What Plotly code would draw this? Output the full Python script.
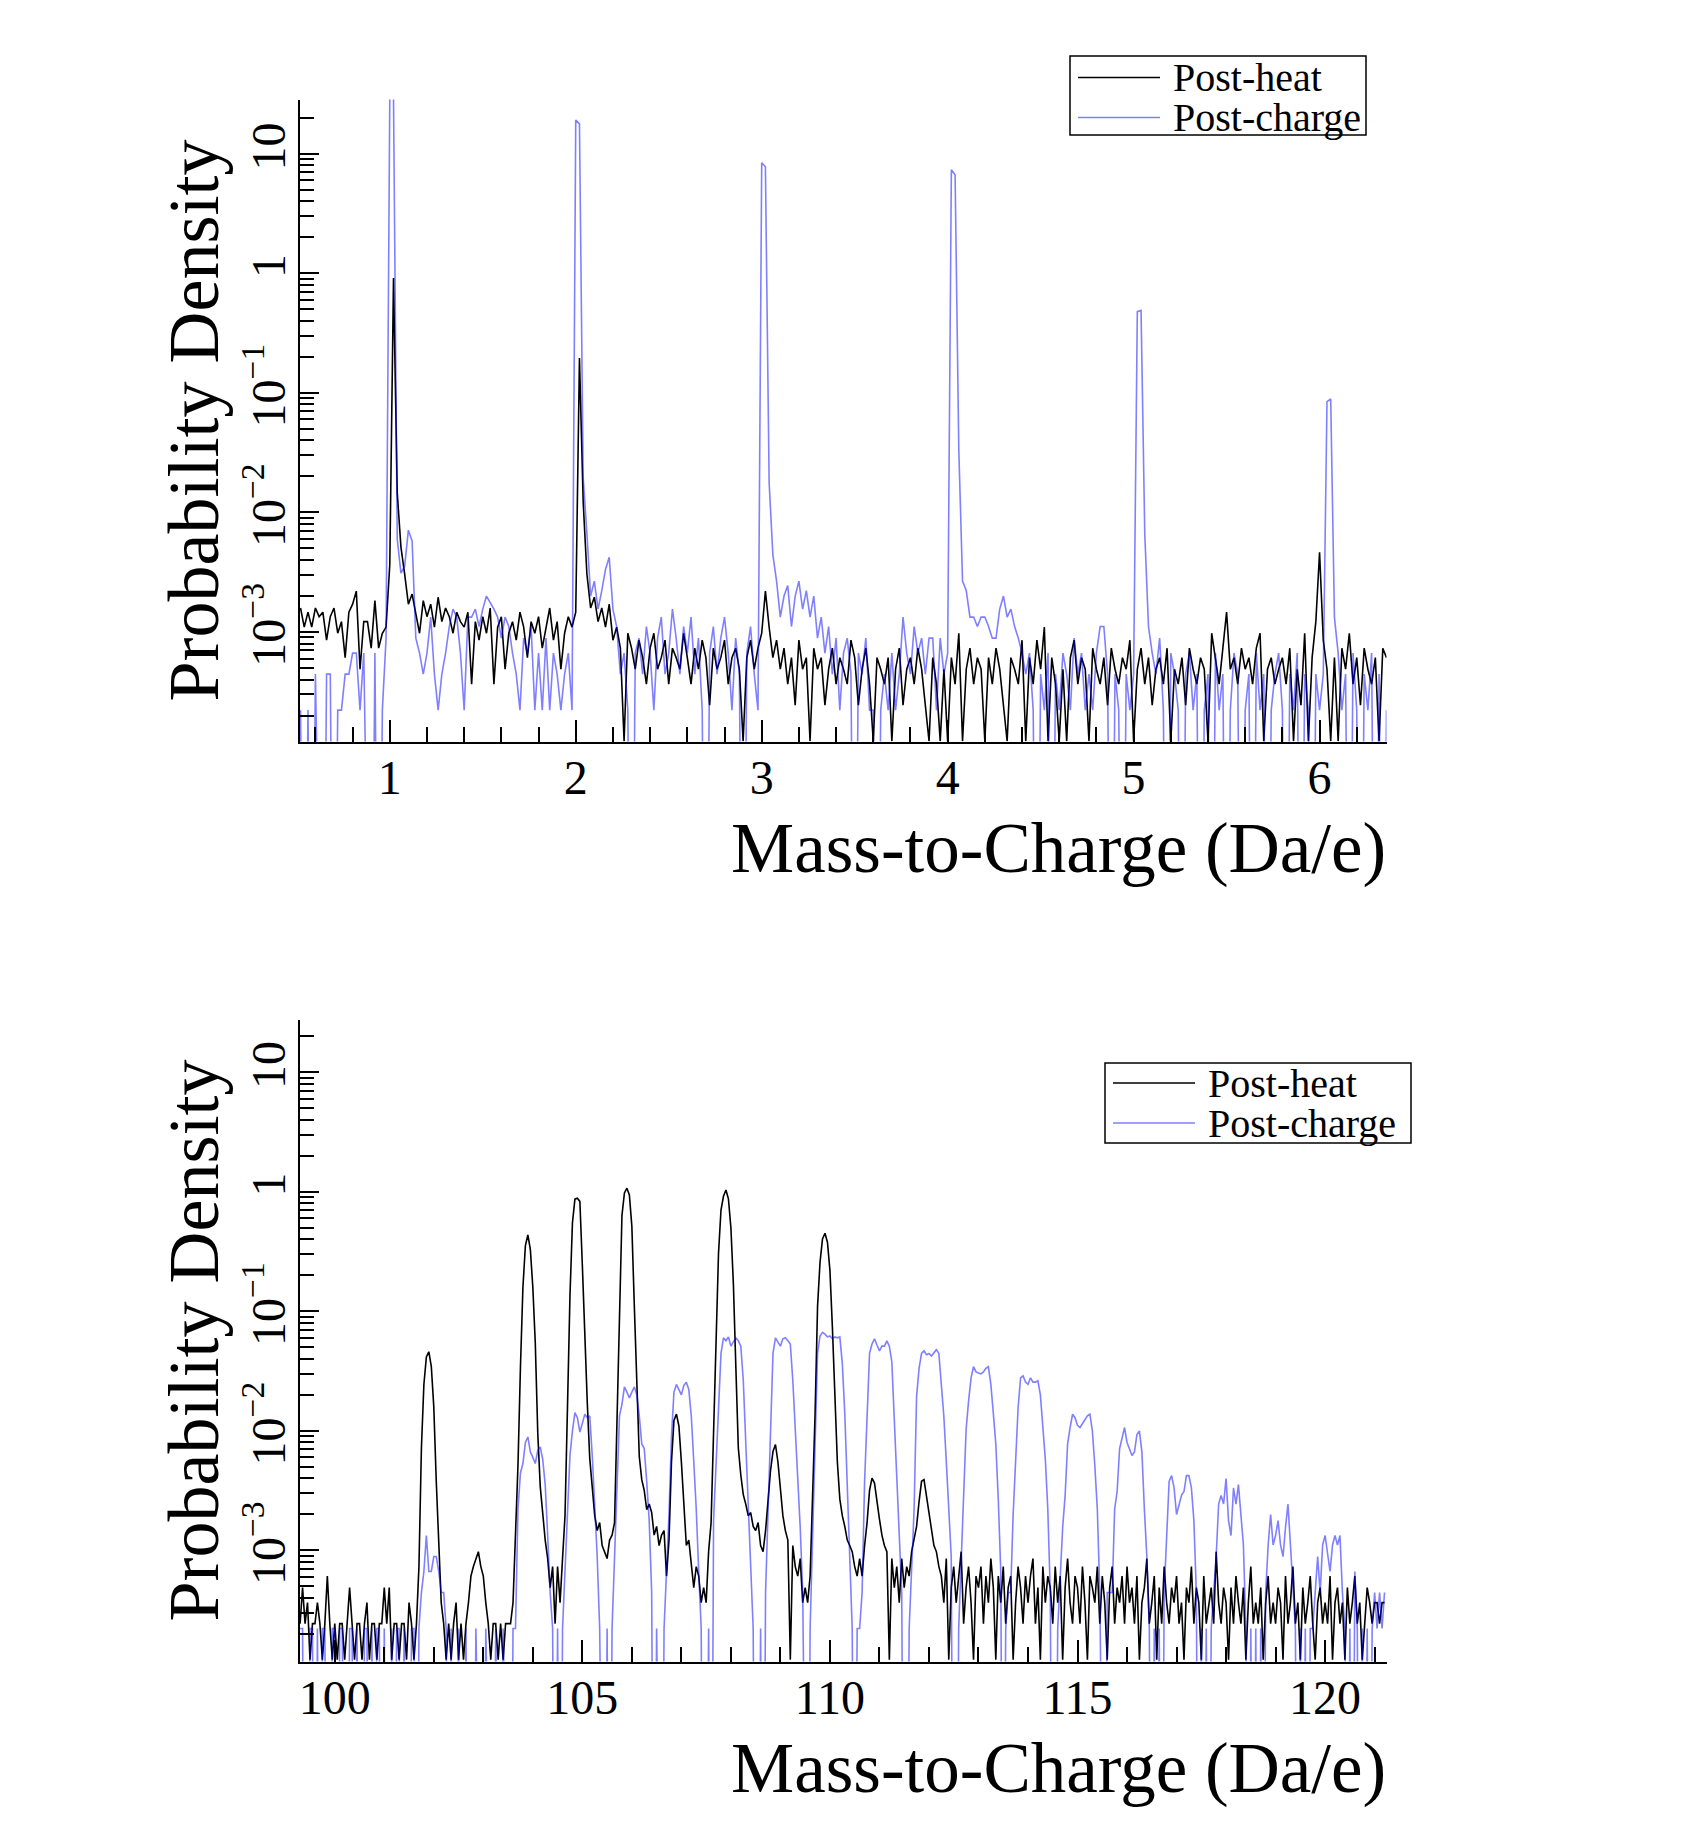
import numpy as np
import plotly.graph_objects as go

W, H = 1687, 1828

# ---------------------------------------------------------------- data
# histogram bin centres (Da/e): start and width of the bins used
top_bin_start, top_bin_width = 0.52, 0.02
bottom_bin_start, bottom_bin_width = 99.30, 0.05

# probability density carried by one count in one bin
heat_unit = 1.22e-4      # Post-heat
charge_unit = 2.22e-4    # Post-charge

series_names = ["Post-heat", "Post-charge"]

# counts per bin, 0.52 ... 6.36 Da/e
top_heat_counts = [
    13, 9, 12, 9, 13, 11, 12, 7, 11, 13, 8, 10, 5, 12, 14, 18, 4, 10, 10, 6, 15, 6, 8, 9,
    30, 7460, 120, 42, 25, 14, 17, 12, 8, 15,
    11, 14, 9, 16, 10, 13, 11, 8, 12, 10,
    9, 12, 3, 10, 7, 11, 8, 13, 3, 9,
    11, 4, 8, 10, 7, 12, 9, 5, 10, 8,
    11, 6, 9, 13, 7, 10, 4, 8, 11, 9,
    12, 1600, 100, 25, 13, 16, 10, 13, 9, 14,
    7, 9, 6, 1, 8, 6, 4, 7, 5, 3,
    6, 8, 4, 5, 7, 3, 6, 5, 4, 8,
    5, 3, 6, 4, 7, 5, 2, 6, 4, 5,
    7, 3, 5, 6, 4, 1, 5, 7, 4, 6,
    8, 18, 9, 5, 7, 4, 6, 3, 5, 2,
    7, 4, 5, 1, 6, 4, 5, 2, 4, 6,
    3, 5, 4, 3, 7, 5, 2, 4, 6, 3,
    1, 5, 4, 3, 5, 1, 4, 6, 2, 4,
    5, 3, 6, 4, 2, 1, 5, 3, 1, 4,
    1, 5, 3, 8, 1, 4, 6, 3, 5, 4,
    1, 5, 3, 6, 4, 2, 1, 5, 4, 3,
    7, 1, 5, 3, 7, 4, 9, 1, 5, 3,
    1, 4, 1, 5, 7, 3, 5, 4, 1, 6,
    4, 3, 5, 2, 6, 4, 3, 5, 4, 7,
    1, 4, 6, 3, 5, 2, 4, 5, 3, 6,
    1, 4, 3, 5, 2, 6, 4, 3, 5, 4,
    1, 8, 5, 3, 6, 12, 4, 5, 3, 6,
    4, 5, 3, 6, 8, 1, 4, 5, 3, 4,
    5, 3, 6, 1, 4, 2, 8, 1, 5, 10,
    38, 7, 4, 1, 5, 1, 6, 4, 8, 3, 5, 2, 6, 4, 3, 5, 1, 6, 5,
]
top_charge_counts = [
    1, 0, 1, 0, 2, 0, 0, 2, 2, 0, 1, 1, 2, 2, 3, 3, 1, 3, 0, 0, 3, 0, 1, 4,
    135000, 130000, 27, 14, 16, 32, 26, 4, 3, 2,
    3, 6, 2, 1, 2, 3, 5, 7, 6, 3,
    1, 6, 6, 7, 5, 7, 9, 8, 7, 6,
    4, 6, 5, 3, 2, 1, 4, 3, 5, 1,
    3, 1, 4, 1, 3, 2, 1, 2, 3, 1,
    86000, 80000, 88, 30, 9, 12, 7, 10, 15, 19,
    7, 5, 2, 3, 1, 0, 3, 4, 2, 5,
    3, 1, 4, 6, 2, 3, 7, 4, 2, 5,
    3, 6, 2, 4, 1, 0, 3, 5, 2, 4,
    6, 3, 1, 4, 2, 0, 3, 5, 2, 1,
    37800, 35000, 80, 20, 12, 6, 9, 11, 5, 9,
    12, 7, 10, 6, 9, 4, 6, 3, 5, 2,
    4, 1, 3, 4, 2, 0, 3, 2, 4, 1,
    1, 0, 1, 2, 1, 3, 1, 2, 6, 3,
    2, 5, 3, 4, 2, 4, 4, 1, 4, 2,
    3, 33000, 30000, 150, 12, 10, 6, 6, 5, 6,
    6, 5, 4, 4, 7, 9, 6, 7, 5, 4,
    3, 2, 3, 1, 0, 2, 1, 3, 0, 2,
    1, 3, 2, 1, 4, 2, 3, 1, 2, 1,
    3, 5, 5, 2, 0, 2, 1, 0, 2, 1,
    2, 2150, 2200, 30, 5, 3, 2, 4, 1, 0,
    3, 2, 1, 0, 2, 3, 1, 2, 0, 1,
    2, 0, 3, 1, 2, 0, 1, 3, 2, 0,
    1, 2, 0, 3, 1, 2, 0, 1, 2, 3,
    1, 0, 2, 1, 3, 0, 2, 1, 0, 2,
    1, 2, 380, 400, 6, 3, 1, 2, 0, 3, 1, 0, 2, 1, 3, 0, 2, 0, 1,
]

# counts per bin, 99.30 ... 121.20 Da/e (one row per Da/e)
bottom_heat_counts = [
    2, 4, 2, 3, 1, 2, 2, 3, 2, 1, 2, 5, 2, 1,
    2, 1, 2, 2, 1, 2, 4, 2, 1, 2, 2, 1, 2, 3, 1, 2, 2, 1, 2, 2,
    4, 2, 4, 1, 2, 2, 1, 2, 2, 1, 3, 2, 1, 2, 6, 59, 200, 340, 376, 282,
    130, 31, 9, 3, 2, 1, 2, 1, 2, 3, 1, 2, 1, 2, 3, 5, 6, 7, 8, 6,
    5, 3, 2, 1, 2, 2, 1, 2, 1, 2, 2, 2, 3, 11, 42, 280, 1300, 2900, 3560, 2700,
    1300, 440, 78, 28, 16, 10, 7, 4, 6, 2, 6, 3, 7, 16, 130, 1100, 4500, 7100, 7220, 6800,
    2000, 480, 140, 48, 28, 16, 12, 14, 9, 8, 7, 10, 11, 14, 120, 1000, 5200, 8000, 8770, 7700,
    4200, 900, 190, 50, 32, 26, 18, 20, 17, 11, 13, 9, 11, 12, 5, 10, 45, 100, 113, 90,
    45, 18, 9, 10, 6, 4, 6, 5, 3, 4, 3, 8, 14, 70, 320, 2500, 5760, 7500, 8460, 7150,
    4100, 1400, 280, 59, 35, 24, 20, 16, 17, 13, 12, 14, 9, 8, 12, 22, 38, 55, 63, 45,
    28, 16, 12, 10, 1, 9, 6, 5, 7, 3, 4, 3, 5, 20, 113, 900, 2100, 3300, 3680, 3100,
    1800, 600, 190, 45, 22, 16, 13, 10, 9, 8, 6, 5, 7, 5, 9, 14, 26, 33, 30, 20,
    15, 11, 9, 8, 1, 7, 4, 6, 3, 7, 4, 6, 5, 8, 10, 13, 21, 31, 32, 23,
    16, 12, 9, 8, 6, 5, 3, 7, 1, 4, 6, 3, 5, 8, 2, 4, 6, 3, 1, 5,
    4, 6, 2, 5, 3, 7, 4, 1, 5, 3, 6, 2, 4, 5, 1, 3, 6, 4, 2, 5,
    3, 5, 7, 2, 4, 1, 6, 3, 5, 4, 2, 6, 3, 5, 1, 4, 7, 3, 2, 5,
    4, 2, 6, 3, 1, 5, 4, 3, 6, 2, 5, 3, 1, 4, 6, 2, 4, 3, 5, 2,
    6, 3, 4, 2, 5, 1, 3, 4, 7, 2, 3, 5, 1, 4, 2, 6, 3, 2, 4, 3,
    5, 2, 3, 1, 4, 3, 6, 2, 4, 3, 1, 5, 2, 3, 4, 2, 8, 3, 2, 4,
    3, 1, 4, 2, 5, 3, 2, 4, 1, 3, 6, 2, 3, 2, 4, 1, 3, 5, 2, 3,
    2, 4, 3, 1, 5, 2, 3, 6, 2, 3, 1, 4, 2, 3, 5, 2, 1, 3, 4, 2,
    3, 2, 5, 1, 3, 4, 2, 3, 1, 4, 2, 3, 5, 2, 3, 1, 2, 4, 3, 2,
    3, 3, 2, 3, 3,
]
bottom_charge_counts = [
    1, 1, 0, 0, 1, 1, 0, 1, 0, 1, 1, 0, 0, 1,
    1, 0, 1, 1, 0, 0, 1, 1, 0, 1, 0, 0, 1, 1, 0, 1, 0, 1, 1, 0,
    1, 0, 0, 1, 0, 1, 1, 0, 1, 0, 0, 1, 1, 0, 1, 2, 3, 6, 3, 3,
    4, 4, 3, 2, 2, 1, 0, 1, 0, 0, 1, 0, 0, 1, 0, 0, 0, 1, 0, 0,
    0, 1, 0, 0, 0, 1, 0, 0, 1, 0, 0, 0, 1, 1, 10, 20, 24, 36, 40, 30,
    27, 24, 31, 33, 26, 16, 6, 2, 1, 0, 1, 0, 1, 3, 10, 28, 45, 64, 58, 44,
    52, 62, 58, 60, 28, 10, 4, 1, 0, 0, 1, 0, 1, 4, 15, 60, 75, 105, 95, 85,
    95, 105, 90, 60, 35, 32, 17, 8, 2, 0, 1, 0, 0, 1, 3, 9, 40, 95, 110, 100,
    90, 108, 115, 100, 60, 25, 10, 3, 1, 0, 0, 1, 0, 8, 25, 60, 200, 270, 255, 275,
    230, 250, 270, 255, 230, 120, 35, 14, 4, 1, 0, 0, 1, 0, 2, 9, 40, 200, 270, 250,
    230, 265, 270, 255, 240, 120, 50, 17, 7, 2, 0, 0, 1, 6, 40, 200, 280, 300, 290, 275,
    280, 265, 275, 270, 275, 165, 63, 17, 5, 1, 0, 1, 1, 2, 17, 72, 200, 240, 265, 235,
    210, 230, 230, 255, 230, 170, 55, 23, 8, 2, 0, 0, 1, 3, 10, 87, 150, 200, 210, 195,
    200, 190, 200, 215, 200, 118, 60, 25, 11, 4, 0, 0, 1, 4, 12, 46, 80, 125, 155, 140,
    137, 135, 140, 150, 155, 110, 63, 35, 12, 3, 0, 1, 2, 2, 9, 25, 70, 125, 130, 115,
    110, 125, 115, 115, 118, 90, 48, 26, 10, 2, 0, 0, 1, 3, 7, 13, 35, 48, 62, 58,
    50, 48, 52, 55, 60, 62, 45, 23, 10, 2, 0, 0, 2, 2, 2, 10, 14, 32, 40, 48,
    36, 32, 28, 30, 42, 45, 30, 10, 4, 1, 0, 1, 0, 1, 0, 2, 6, 17, 19, 15,
    9, 11, 13, 14, 19, 19, 15, 8, 2, 0, 1, 0, 1, 0, 1, 2, 4, 11, 13, 11,
    18, 8, 6, 15, 11, 16, 9, 5, 1, 0, 1, 0, 1, 0, 1, 0, 2, 5, 9, 5,
    6, 8, 5, 4, 7, 11, 5, 2, 1, 0, 1, 0, 1, 0, 1, 1, 2, 4, 2, 5,
    6, 4, 3, 5, 6, 5, 6, 2, 1, 0, 1, 0, 3, 1, 0, 1, 0, 1, 0, 1,
    2, 1, 2, 1, 2,
]

# axis ticks
top_x_ticks = [1, 2, 3, 4, 5, 6]
top_x_minor = [0.6, 0.8, 1.2, 1.4, 1.6, 1.8, 2.2, 2.4, 2.6, 2.8, 3.2, 3.4, 3.6, 3.8,
               4.2, 4.4, 4.6, 4.8, 5.2, 5.4, 5.6, 5.8, 6.2]
bottom_x_ticks = [100, 105, 110, 115, 120]
bottom_x_minor = [101, 102, 103, 104, 106, 107, 108, 109, 111, 112, 113, 114,
                  116, 117, 118, 119, 121]
y_ticks = [1e-3, 1e-2, 1e-1, 1, 10]
y_ticktext = ["10<sup>\u22123</sup>", "10<sup>\u22122</sup>", "10<sup>\u22121</sup>", "1", "10"]
y_minor = [m * 10.0 ** e for e in range(-4, 2) for m in range(2, 10)] + [20]

x_title = "Mass-to-Charge (Da/e)"
y_title = "Probability Density"

assert len(top_heat_counts) == 293 and len(top_charge_counts) == 293
assert len(bottom_heat_counts) == 439 and len(bottom_charge_counts) == 439


def centres(start, width, n):
    return start + width * np.arange(n)


def density(counts, unit):
    c = np.asarray(counts, dtype=float)
    # empty bins fall off the bottom of the log axis
    return np.where(c > 0, c * unit, 1e-7)


x_top = centres(top_bin_start, top_bin_width, len(top_heat_counts))
x_bot = centres(bottom_bin_start, bottom_bin_width, len(bottom_heat_counts))

# ---------------------------------------------------------------- figure
FONT = "Liberation Serif"
BLACK = "black"
BLUE = "rgba(0,0,255,0.5)"
LW = 1.6

fig = go.Figure()
fig.add_trace(go.Scatter(x=x_top, y=density(top_heat_counts, heat_unit), mode="lines",
                         name=series_names[0], line=dict(color=BLACK, width=LW),
                         xaxis="x", yaxis="y", showlegend=False))
fig.add_trace(go.Scatter(x=x_top, y=density(top_charge_counts, charge_unit), mode="lines",
                         name=series_names[1], line=dict(color=BLUE, width=LW),
                         xaxis="x", yaxis="y", showlegend=False))
fig.add_trace(go.Scatter(x=x_bot, y=density(bottom_heat_counts, heat_unit), mode="lines",
                         name=series_names[0], line=dict(color=BLACK, width=LW),
                         xaxis="x2", yaxis="y2", showlegend=False))
fig.add_trace(go.Scatter(x=x_bot, y=density(bottom_charge_counts, charge_unit), mode="lines",
                         name=series_names[1], line=dict(color=BLUE, width=LW),
                         xaxis="x2", yaxis="y2", showlegend=False))


def fx(px):
    return px / W


def fy(py):
    return 1 - py / H


PL, PR = 299.6, 1386.5
TOP_T, TOP_B = 99.5, 741.5
BOT_T, BOT_B = 1019.5, 1661.6

tick_font = dict(family=FONT, size=48, color="black")
axis_common = dict(showline=True, linecolor="black", linewidth=1.6, mirror=False,
                   showgrid=False, zeroline=False, ticks="inside", tickcolor="black",
                   tickwidth=1.5, tickfont=tick_font, tickmode="array")


def xaxis(rng, ticks, minor, anchor):
    return dict(axis_common, domain=[fx(PL), fx(PR)], range=rng, tickvals=ticks,
                ticktext=[str(t) for t in ticks], ticklen=22, anchor=anchor,
                ticklabelstandoff=-7,
                minor=dict(tickmode="array", tickvals=minor, ticks="inside",
                           ticklen=15, tickwidth=1.5, tickcolor="black"))


def yaxis(dom, rng, anchor):
    return dict(axis_common, domain=dom, type="log", range=rng, tickvals=y_ticks,
                ticktext=y_ticktext, tickangle=-90, ticklen=20, anchor=anchor,
                ticklabelstandoff=-6,
                minor=dict(tickmode="array", tickvals=y_minor, ticks="inside",
                           ticklen=15, tickwidth=1.5, tickcolor="black"))


fig.update_layout(
    width=W, height=H, autosize=False,
    margin=dict(l=0, r=0, t=0, b=0),
    paper_bgcolor="white", plot_bgcolor="white",
    font=dict(family=FONT, color="black"),
    xaxis=xaxis([0.515, 6.36], top_x_ticks, top_x_minor, "y"),
    yaxis=yaxis([fy(TOP_B), fy(TOP_T)], [-3.916, 1.453], "x"),
    xaxis2=xaxis([99.29, 121.24], bottom_x_ticks, bottom_x_minor, "y2"),
    yaxis2=yaxis([fy(BOT_B), fy(BOT_T)], [-3.93, 1.44], "x2"),
)

annotations = []
shapes = []
for (top, bot, title_mid) in [(TOP_T, TOP_B, 848), (BOT_T, BOT_B, 1768)]:
    annotations.append(dict(text=x_title, xref="paper", yref="paper", x=fx(1388), y=fy(title_mid),
                            xanchor="right", yanchor="middle", showarrow=False,
                            font=dict(family=FONT, size=71, color="black")))
    annotations.append(dict(text=y_title, xref="paper", yref="paper", x=fx(194), y=fy((top + bot) / 2),
                            xanchor="center", yanchor="middle", textangle=-90, showarrow=False,
                            font=dict(family=FONT, size=72, color="black")))

# legends (box, line samples, labels)
legend_boxes = [
    dict(box=(1070, 56, 1366, 135), line_x=(1078, 1160), text_x=1171, rows=(77.5, 117.5)),
    dict(box=(1105, 1063, 1411, 1143), line_x=(1113, 1195), text_x=1206, rows=(1083, 1123)),
]
colors = [BLACK, BLUE]
for lg in legend_boxes:
    x0, y0, x1, y1 = lg["box"]
    shapes.append(dict(type="rect", xref="paper", yref="paper", x0=fx(x0), x1=fx(x1),
                       y0=fy(y1), y1=fy(y0), line=dict(color="black", width=1.5),
                       fillcolor="white", layer="above"))
    for name, col, ry in zip(series_names, colors, lg["rows"]):
        shapes.append(dict(type="line", xref="paper", yref="paper", x0=fx(lg["line_x"][0]),
                           x1=fx(lg["line_x"][1]), y0=fy(ry), y1=fy(ry),
                           line=dict(color=col, width=1.6), layer="above"))
        annotations.append(dict(text=name, xref="paper", yref="paper", x=fx(lg["text_x"]),
                                y=fy(ry), xanchor="left", yanchor="middle", showarrow=False,
                                font=dict(family=FONT, size=40, color="black")))

fig.update_layout(annotations=annotations, shapes=shapes)
fig.write_html("out.html")
